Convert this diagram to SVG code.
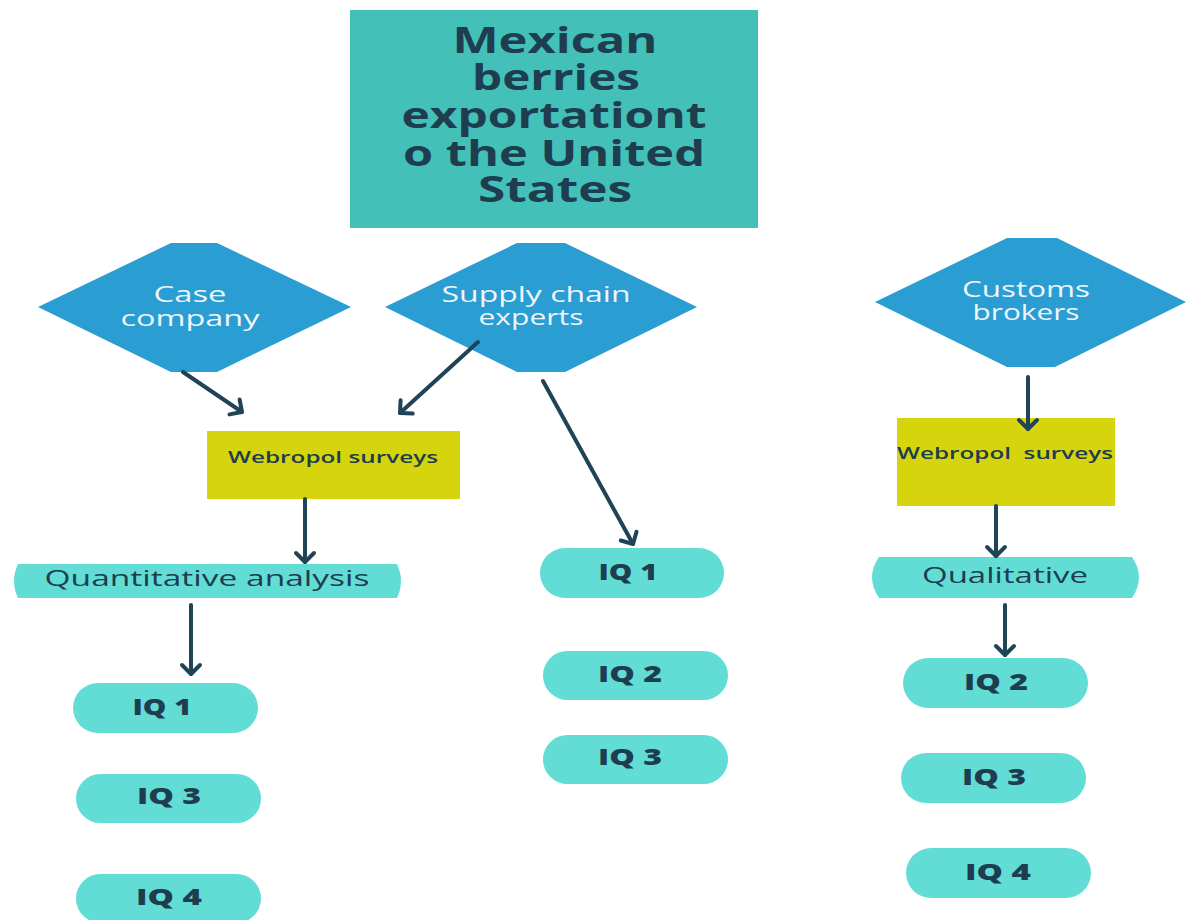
<svg xmlns="http://www.w3.org/2000/svg" width="1189" height="920" viewBox="0 0 1189 920">
<defs>
<style>
.title{font-family:"Open Sans","Liberation Sans",sans-serif;font-weight:700;font-size:35px;fill:#1e3d4f;text-anchor:middle}
.dia{fill:#2a9dd3}
.dtext{font-family:"Open Sans","Liberation Sans",sans-serif;font-size:21px;fill:#eef6fa;text-anchor:middle}
.web{fill:#d6d50d}
.wtext{font-family:"Open Sans","Liberation Sans",sans-serif;font-weight:600;font-size:17px;fill:#1e3d4f;text-anchor:middle}
.pill{fill:#62ddd5}
.ptext{font-family:"Open Sans","Liberation Sans",sans-serif;font-weight:800;font-size:22px;fill:#1e3d4f;text-anchor:middle}
.ltext{font-family:"Open Sans","Liberation Sans",sans-serif;font-size:22px;fill:#1e3d4f;text-anchor:middle}
.conn{stroke:#1f4457;stroke-width:4;fill:none;stroke-linecap:round;marker-end:url(#ah)}
</style>
<marker id="ah" markerUnits="userSpaceOnUse" viewBox="-12 -12 16 24" markerWidth="16" markerHeight="24" refX="0" refY="0" orient="auto">
<path d="M -9,-9 L 0,0 L -9,9" fill="none" stroke="#1f4457" stroke-width="4" stroke-linecap="round" stroke-linejoin="round"/>
</marker>
</defs>
<rect width="1189" height="920" fill="#ffffff"/>

<g id="title">
<rect x="350" y="10" width="408" height="218" fill="#43c1b9"/>
<text class="title" x="555" y="53" textLength="205" lengthAdjust="spacingAndGlyphs">Mexican</text>
<text class="title" x="556" y="90" textLength="168" lengthAdjust="spacingAndGlyphs">berries</text>
<text class="title" x="554" y="128" textLength="305" lengthAdjust="spacingAndGlyphs">exportationt</text>
<text class="title" x="554" y="166" textLength="302" lengthAdjust="spacingAndGlyphs">o the United</text>
<text class="title" x="555" y="202" textLength="154" lengthAdjust="spacingAndGlyphs">States</text>
</g>

<g id="case-company">
<polygon class="dia" points="38,307 171,243 217,243 351,307 217,372 171,372"/>
<text class="dtext" x="190" y="302" textLength="73" lengthAdjust="spacingAndGlyphs">Case</text>
<text class="dtext" x="190" y="326" textLength="139" lengthAdjust="spacingAndGlyphs">company</text>
</g>

<g id="supply-chain-experts">
<polygon class="dia" points="385,307 517,243 565,243 697,307 565,372 517,372"/>
<text class="dtext" x="536" y="302" textLength="189" lengthAdjust="spacingAndGlyphs">Supply chain</text>
<text class="dtext" x="531" y="325" textLength="105" lengthAdjust="spacingAndGlyphs">experts</text>
</g>

<g id="customs-brokers">
<polygon class="dia" points="875,302 1007,238 1057,238 1186,302 1055,367 1007,367"/>
<text class="dtext" x="1026" y="297" textLength="128" lengthAdjust="spacingAndGlyphs">Customs</text>
<text class="dtext" x="1026" y="320" textLength="107" lengthAdjust="spacingAndGlyphs">brokers</text>
</g>

<g id="webropol-left">
<rect class="web" x="207" y="431" width="253" height="68"/>
<text class="wtext" x="333" y="463" textLength="210" lengthAdjust="spacingAndGlyphs">Webropol surveys</text>
</g>

<g id="webropol-right">
<rect class="web" x="897" y="418" width="218" height="88"/>
<text class="wtext" x="1005" y="459" textLength="216" lengthAdjust="spacingAndGlyphs" xml:space="preserve">Webropol  surveys</text>
</g>

<g id="quantitative-analysis">
<path class="pill" d="M 18,564 L 397,564 Q 405,581 397,598 L 18,598 Q 10,581 18,564 Z"/>
<text class="ltext" x="207" y="586" textLength="325" lengthAdjust="spacingAndGlyphs">Quantitative analysis</text>
</g>

<g id="qualitative">
<path class="pill" d="M 879,557 L 1132,557 Q 1146,577 1132,598 L 879,598 Q 865,577 879,557 Z"/>
<text class="ltext" x="1005" y="583" textLength="166" lengthAdjust="spacingAndGlyphs">Qualitative</text>
</g>

<g id="left-iq1">
<rect class="pill" x="73" y="683" width="185" height="50" rx="25"/>
<text class="ptext" x="162" y="715" textLength="59" lengthAdjust="spacingAndGlyphs">IQ 1</text>
</g>
<g id="left-iq3">
<rect class="pill" x="76" y="774" width="185" height="49" rx="24.5"/>
<text class="ptext" x="169" y="804" textLength="64" lengthAdjust="spacingAndGlyphs">IQ 3</text>
</g>
<g id="left-iq4">
<rect class="pill" x="76" y="874" width="185" height="49" rx="24.5"/>
<text class="ptext" x="169" y="905" textLength="66" lengthAdjust="spacingAndGlyphs">IQ 4</text>
</g>

<g id="mid-iq1">
<rect class="pill" x="540" y="548" width="184" height="50" rx="25"/>
<text class="ptext" x="628" y="580" textLength="59" lengthAdjust="spacingAndGlyphs">IQ 1</text>
</g>
<g id="mid-iq2">
<rect class="pill" x="543" y="651" width="185" height="49" rx="24.5"/>
<text class="ptext" x="630" y="682" textLength="64" lengthAdjust="spacingAndGlyphs">IQ 2</text>
</g>
<g id="mid-iq3">
<rect class="pill" x="543" y="735" width="185" height="49" rx="24.5"/>
<text class="ptext" x="630" y="765" textLength="64" lengthAdjust="spacingAndGlyphs">IQ 3</text>
</g>

<g id="right-iq2">
<rect class="pill" x="903" y="658" width="185" height="50" rx="25"/>
<text class="ptext" x="996" y="690" textLength="64" lengthAdjust="spacingAndGlyphs">IQ 2</text>
</g>
<g id="right-iq3">
<rect class="pill" x="901" y="753" width="185" height="50" rx="25"/>
<text class="ptext" x="994" y="785" textLength="64" lengthAdjust="spacingAndGlyphs">IQ 3</text>
</g>
<g id="right-iq4">
<rect class="pill" x="906" y="848" width="185" height="50" rx="25"/>
<text class="ptext" x="998" y="880" textLength="66" lengthAdjust="spacingAndGlyphs">IQ 4</text>
</g>

<g id="connectors">
<line class="conn" x1="183" y1="372" x2="242" y2="412"/>
<line class="conn" x1="478" y1="342" x2="400" y2="413"/>
<line class="conn" x1="543" y1="381" x2="633" y2="544"/>
<line class="conn" x1="305" y1="499" x2="305" y2="562"/>
<line class="conn" x1="191" y1="605" x2="191" y2="674"/>
<line class="conn" x1="1028" y1="377" x2="1028" y2="429"/>
<line class="conn" x1="996" y1="506" x2="996" y2="556"/>
<line class="conn" x1="1005" y1="605" x2="1005" y2="655"/>
</g>
</svg>
